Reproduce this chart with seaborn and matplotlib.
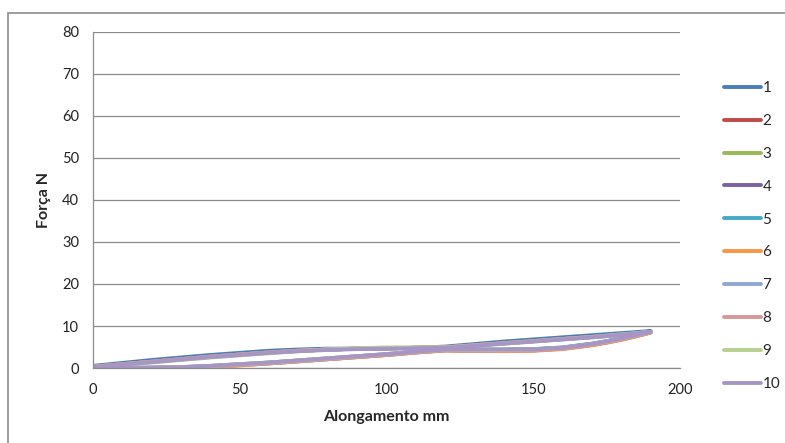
import numpy as np
import pandas as pd
import matplotlib
matplotlib.use("Agg")
import matplotlib.pyplot as plt
import seaborn as sns

# ---------------- data ----------------
series_names = ['1', '2', '3', '4', '5', '6', '7', '8', '9', '10']
series_colors = ['#4A7EBB', '#BE4B48', '#98B954', '#7D60A0', '#46AAC5',
                 '#F79646', '#8EA8D3', '#D69896', '#B7D08F', '#A796C5']

# loading branch (elongation going up)
load_x = [0, 10, 20, 30, 40, 50, 60, 70, 80, 90, 100, 110, 120, 130, 140, 150, 160, 170, 180, 190]
# unloading branch (elongation coming back)
unload_x = [190, 185, 180, 175, 170, 160, 150, 140, 130, 120, 110, 100, 90, 80, 70, 60, 50, 40, 30, 20, 10, 0]

load_y = {
    '1':  [0.5, 1.2, 1.9, 2.5, 3.1, 3.6, 4.1, 4.4, 4.6, 4.6, 4.7, 4.8, 5.1, 5.7, 6.3, 6.8, 7.3, 7.8, 8.3, 8.8],
    '2':  [0.3, 0.9, 1.5, 2.1, 2.7, 3.2, 3.7, 4.1, 4.4, 4.6, 4.7, 4.8, 4.9, 5.4, 5.9, 6.4, 6.9, 7.4, 7.9, 8.5],
    '3':  [0.3, 0.9, 1.5, 2.1, 2.7, 3.2, 3.7, 4.1, 4.4, 4.6, 4.7, 4.8, 4.9, 5.4, 5.9, 6.4, 6.9, 7.4, 8.0, 8.6],
    '4':  [0.3, 0.9, 1.5, 2.1, 2.7, 3.2, 3.7, 4.1, 4.4, 4.6, 4.7, 4.8, 4.9, 5.4, 5.9, 6.4, 6.9, 7.4, 7.9, 8.5],
    '5':  [0.3, 0.9, 1.5, 2.1, 2.7, 3.2, 3.7, 4.1, 4.4, 4.6, 4.7, 4.8, 4.9, 5.4, 5.9, 6.4, 6.9, 7.4, 8.0, 8.6],
    '6':  [0.3, 0.9, 1.5, 2.1, 2.7, 3.2, 3.7, 4.1, 4.4, 4.6, 4.7, 4.8, 4.9, 5.4, 5.9, 6.4, 6.9, 7.4, 7.9, 8.5],
    '7':  [0.3, 0.9, 1.5, 2.1, 2.7, 3.2, 3.7, 4.1, 4.4, 4.6, 4.7, 4.8, 4.9, 5.4, 5.9, 6.4, 6.9, 7.4, 8.0, 8.6],
    '8':  [0.3, 0.9, 1.5, 2.1, 2.7, 3.2, 3.7, 4.1, 4.4, 4.6, 4.7, 4.8, 4.9, 5.4, 5.9, 6.4, 6.9, 7.4, 7.9, 8.5],
    '9':  [0.2, 0.7, 1.3, 1.9, 2.5, 3.0, 3.5, 4.0, 4.4, 4.7, 4.9, 4.9, 4.9, 5.3, 5.8, 6.3, 6.8, 7.3, 7.9, 8.6],
    '10': [0.2, 0.8, 1.4, 2.0, 2.6, 3.1, 3.6, 4.0, 4.3, 4.5, 4.6, 4.7, 4.8, 5.3, 5.8, 6.3, 6.8, 7.3, 7.9, 8.6],
}
unload_y = {
    '1':  [8.8, 7.9, 7.1, 6.4, 5.8, 4.9, 4.5, 4.4, 4.4, 4.4, 3.9, 3.3, 2.8, 2.3, 1.8, 1.3, 0.9, 0.5, 0.2, 0.1, 0.0, 0.0],
    '2':  [8.5, 7.6, 6.8, 6.1, 5.5, 4.6, 4.2, 4.1, 4.1, 4.2, 3.7, 3.1, 2.6, 2.1, 1.6, 1.1, 0.7, 0.3, 0.0, 0.0, 0.0, 0.0],
    '3':  [8.6, 7.8, 7.0, 6.3, 5.7, 4.8, 4.4, 4.3, 4.3, 4.3, 3.8, 3.2, 2.7, 2.2, 1.7, 1.2, 0.8, 0.4, 0.1, 0.0, 0.0, 0.0],
    '4':  [8.5, 7.7, 6.9, 6.2, 5.6, 4.7, 4.3, 4.2, 4.2, 4.3, 3.8, 3.2, 2.7, 2.2, 1.7, 1.2, 0.8, 0.4, 0.1, 0.0, 0.0, 0.0],
    '5':  [8.6, 7.8, 7.0, 6.3, 5.7, 4.8, 4.4, 4.3, 4.3, 4.3, 3.8, 3.2, 2.7, 2.2, 1.7, 1.2, 0.8, 0.4, 0.1, 0.0, 0.0, 0.0],
    '6':  [8.4, 7.5, 6.7, 6.0, 5.4, 4.5, 4.1, 4.0, 4.1, 4.2, 3.7, 3.1, 2.6, 2.1, 1.6, 1.1, 0.6, 0.2, 0.0, 0.0, 0.0, 0.0],
    '7':  [8.6, 7.8, 7.0, 6.3, 5.7, 4.8, 4.4, 4.3, 4.3, 4.3, 3.8, 3.2, 2.7, 2.2, 1.7, 1.2, 0.8, 0.4, 0.1, 0.0, 0.0, 0.0],
    '8':  [8.5, 7.6, 6.8, 6.1, 5.5, 4.6, 4.2, 4.1, 4.1, 4.2, 3.7, 3.1, 2.6, 2.1, 1.6, 1.1, 0.7, 0.3, 0.0, 0.0, 0.0, 0.0],
    '9':  [8.6, 7.8, 7.0, 6.3, 5.7, 4.8, 4.4, 4.3, 4.3, 4.4, 3.9, 3.3, 2.8, 2.3, 1.8, 1.3, 0.9, 0.5, 0.2, 0.1, 0.0, 0.0],
    '10': [8.6, 7.8, 7.0, 6.3, 5.7, 4.8, 4.4, 4.4, 4.4, 4.4, 3.9, 3.3, 2.8, 2.3, 1.8, 1.3, 0.9, 0.5, 0.2, 0.1, 0.0, 0.0],
}

# build a long table, keeping point order so each loop is drawn as a path
rows = []
for name in series_names:
    xs = load_x + unload_x
    ys = load_y[name] + unload_y[name]
    for i, (x, y) in enumerate(zip(xs, ys)):
        rows.append({'serie': name, 'ordem': i, 'Alongamento': x, 'Forca': y})
data = pd.DataFrame(rows)

# ---------------- plot ----------------
sns.set_style('white')
plt.rcParams['font.family'] = ['Lato', 'DejaVu Sans']

fig = plt.figure(figsize=(7.85, 4.43), dpi=100)
ax = fig.add_axes([93 / 785, 1 - 368 / 443, (680 - 93) / 785, (368 - 32) / 443])

sns.lineplot(data=data, x='Alongamento', y='Forca', hue='serie', units='serie',
             estimator=None, sort=False, palette=series_colors,
             hue_order=series_names, linewidth=2.8, ax=ax)

ax.set_xlim(0, 200)
ax.set_ylim(0, 80)
ax.set_xticks(np.arange(0, 201, 50))
ax.set_yticks(np.arange(0, 81, 10))
ax.yaxis.grid(True, color='#8C8C8C', linewidth=0.9)
ax.xaxis.grid(False)
ax.set_axisbelow(True)
for side in ['top', 'right']:
    ax.spines[side].set_visible(False)
for side in ['left', 'bottom']:
    ax.spines[side].set_color('#8C8C8C')
    ax.spines[side].set_linewidth(0.9)
ax.tick_params(axis='both', direction='out', length=5, width=0.9, color='#8C8C8C',
               labelsize=10.5, labelcolor='#222222', pad=5)
ax.tick_params(axis='x', pad=6)

ax.set_xlabel('Alongamento mm', fontsize=11.5, fontweight='bold', labelpad=9)
ax.set_ylabel('Força N', fontsize=11.5, fontweight='bold', labelpad=8)

leg = ax.legend(loc='upper left', bbox_to_anchor=(1.065, 0.872), frameon=False,
                fontsize=11, handlelength=2.4, handletextpad=0.1,
                labelspacing=1.235, borderaxespad=0)
for line in leg.get_lines():
    line.set_linewidth(2.8)

# chart frame like the spreadsheet's chart area
fig.patches.append(plt.Rectangle((8 / 785, -0.05), 1.1, 1 - 13 / 443 + 0.05,
                                 transform=fig.transFigure, fill=False,
                                 edgecolor='#8C8C8C', linewidth=1.2))

fig.savefig('out.png', dpi=100)
